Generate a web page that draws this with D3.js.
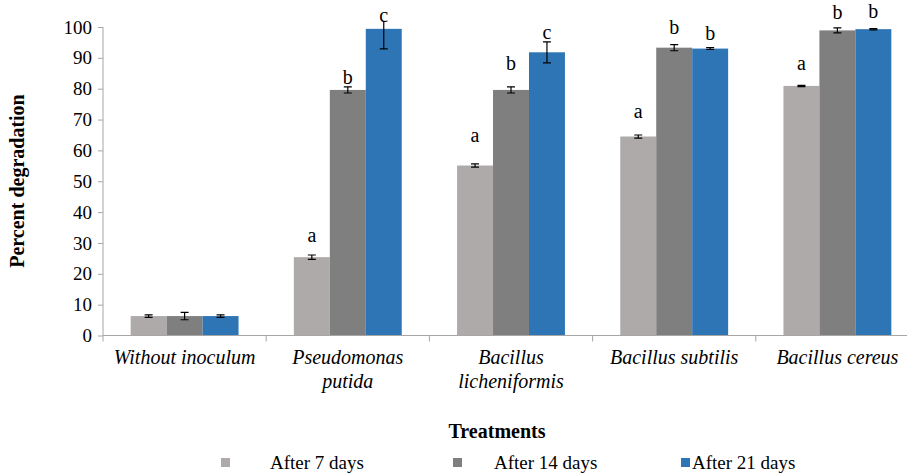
<!DOCTYPE html>
<html>
<head>
<meta charset="utf-8">
<script src="https://cdn.jsdelivr.net/npm/d3@7/dist/d3.min.js"></script>
<style>
  html, body { margin: 0; padding: 0; background: #fff; }
  svg text { font-family: "Liberation Serif", "Times New Roman", Times, serif !important; }
</style>
</head>
<body>
<svg id="chart" width="907" height="475"></svg>
<script>
// Treatments (each label line is a separate entry)
const categories = [
  ["Without inoculum"],
  ["Pseudomonas", "putida"],
  ["Bacillus", "licheniformis"],
  ["Bacillus subtilis"],
  ["Bacillus cereus"]
];
const seriesNames = ["After 7 days", "After 14 days", "After 21 days"];

// Mean percent degradation per treatment
const after7  = [6.3, 25.4, 55.1, 64.5, 80.9];
const after14 = [6.3, 79.6, 79.6, 93.3, 98.9];
const after21 = [6.3, 99.4, 91.8, 93.0, 99.3];

// Standard error per treatment
const err7  = [0.4, 0.7, 0.5, 0.5, 0.2];
const err14 = [1.2, 1.0, 1.0, 1.0, 0.8];
const err21 = [0.4, 6.5, 3.4, 0.3, 0.2];

// Significance letters ("" = none)
const letters7  = ["", "a", "a", "a", "a"];
const letters14 = ["", "b", "b", "b", "b"];
const letters21 = ["", "c", "c", "b", "b"];

const yTicks = [0, 10, 20, 30, 40, 50, 60, 70, 80, 90, 100];

// Layout: how far each letter sits above its bar top (px)
const letterLift = [
  [0, 15, 24, 19, 16],
  [0, 6, 20, 14, 11],
  [0, 7, 13, 9, 11]
];

const colors = ["#aeaaaa", "#7f7f7f", "#2e75b6"];

const svg = d3.select("#chart");
const plotLeft = 103, plotRight = 919, plotTop = 27, plotBottom = 335.5;

const x0 = d3.scaleBand()
  .domain(d3.range(categories.length))
  .range([plotLeft, plotRight])
  .paddingInner(0.339)
  .paddingOuter(0.1695);
const x1 = d3.scaleBand()
  .domain(d3.range(seriesNames.length))
  .range([0, x0.bandwidth()]);
const y = d3.scaleLinear().domain([0, 100]).range([plotBottom, plotTop]);

const values = [after7, after14, after21];
const errors = [err7, err14, err21];
const letters = [letters7, letters14, letters21];

// clip for content inside the plot area
svg.append("clipPath").attr("id", "plotclip")
  .append("rect").attr("x", plotLeft).attr("y", 21)
  .attr("width", plotRight - plotLeft).attr("height", plotBottom - 21);

// bars
const plot = svg.append("g").attr("clip-path", "url(#plotclip)");
values.forEach((vals, s) => {
  plot.selectAll(null).data(vals).enter().append("rect")
    .attr("x", (d, i) => x0(i) + x1(s))
    .attr("y", d => y(d))
    .attr("width", x1.bandwidth())
    .attr("height", d => plotBottom - y(d))
    .attr("fill", colors[s]);
});

// error bars
values.forEach((vals, s) => {
  vals.forEach((v, i) => {
    const cx = x0(i) + x1(s) + x1.bandwidth() / 2;
    const e = errors[s][i];
    const g = plot.append("g").attr("stroke", "#000").attr("stroke-width", 1.2);
    g.append("line").attr("x1", cx).attr("x2", cx).attr("y1", y(v - e)).attr("y2", y(v + e));
    g.append("line").attr("x1", cx - 4).attr("x2", cx + 4).attr("y1", y(v - e)).attr("y2", y(v - e));
    g.append("line").attr("x1", cx - 4).attr("x2", cx + 4).attr("y1", y(v + e)).attr("y2", y(v + e));
  });
});

// significance letters
values.forEach((vals, s) => {
  vals.forEach((v, i) => {
    if (!letters[s][i]) return;
    svg.append("text")
      .attr("x", x0(i) + x1(s) + x1.bandwidth() / 2)
      .attr("y", y(v) - letterLift[s][i])
      .attr("text-anchor", "middle")
      .style("font-size", "20px")
      .attr("fill", "#000")
      .text(letters[s][i]);
  });
});

// y axis
const yAxis = d3.axisLeft(y).tickValues(yTicks).tickSize(5).tickPadding(6);
const ya = svg.append("g").attr("transform", `translate(${plotLeft},0)`).call(yAxis);
ya.select(".domain").attr("stroke", "#a6a6a6").attr("d", `M-0,${plotTop}V${plotBottom}`);
ya.selectAll(".tick line").attr("stroke", "#a6a6a6");
ya.selectAll(".tick text").style("font-size", "19px").attr("fill", "#000");

// x axis baseline with category separators
const xa = svg.append("g");
xa.append("line").attr("x1", plotLeft).attr("x2", plotRight)
  .attr("y1", plotBottom).attr("y2", plotBottom)
  .attr("stroke", "#a6a6a6");
const seps = d3.range(categories.length + 1).map(i => plotLeft + i * x0.step());
xa.selectAll(null).data(seps).enter().append("line")
  .attr("x1", d => d).attr("x2", d => d)
  .attr("y1", plotBottom).attr("y2", plotBottom + 6)
  .attr("stroke", "#a6a6a6");

// category labels
categories.forEach((lines, i) => {
  const cx = x0(i) + x0.bandwidth() / 2;
  const t = svg.append("text")
    .attr("x", cx)
    .attr("y", 364)
    .attr("text-anchor", "middle")
    .style("font-size", "20px")
    .style("font-style", "italic")
    .attr("fill", "#000");
  lines.forEach((ln, k) => {
    t.append("tspan").attr("x", cx).attr("dy", k === 0 ? 0 : 24).text(ln);
  });
});

// axis titles
svg.append("text")
  .attr("transform", "translate(24,181) rotate(-90)")
  .attr("text-anchor", "middle")
  .style("font-size", "20px")
  .style("font-weight", "bold")
  .text("Percent degradation");
svg.append("text")
  .attr("x", 497).attr("y", 438)
  .attr("text-anchor", "middle")
  .style("font-size", "20px")
  .style("font-weight", "bold")
  .text("Treatments");

// legend
const legendX = [221, 453, 681];
const legendTextX = [270, 494, 692];
seriesNames.forEach((name, s) => {
  svg.append("rect")
    .attr("x", legendX[s]).attr("y", 458).attr("width", 9).attr("height", 9)
    .attr("fill", colors[s]);
  svg.append("text")
    .attr("x", legendTextX[s]).attr("y", 469)
    .style("font-size", "19px")
    .attr("fill", "#000")
    .text(name);
});
</script>
</body>
</html>
